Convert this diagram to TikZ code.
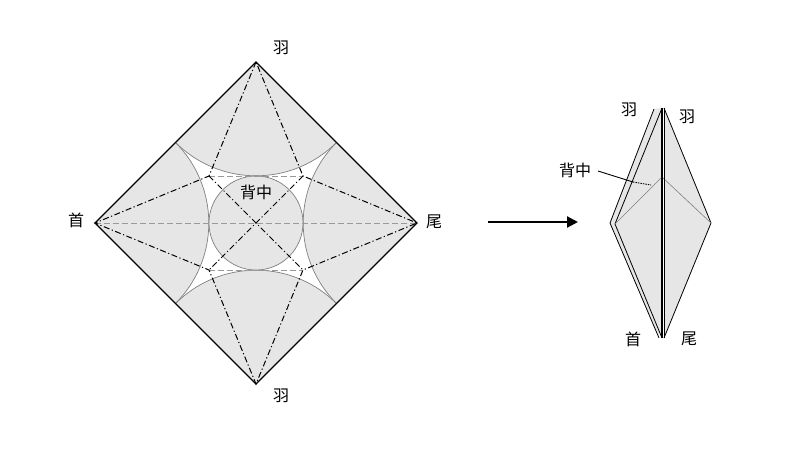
\documentclass[tikz,border=0pt]{standalone}
\usepackage{fontspec}
\newfontfamily\cjk{Noto Sans CJK JP}
\usetikzlibrary{arrows.meta}
\definecolor{paper}{HTML}{E6E6E6}
\tikzset{
  lbl/.style={font=\cjk\fontsize{16}{18}\selectfont, inner sep=0pt},
  mv/.style={black, line width=1pt, dash pattern=on 6pt off 2.5pt on 1.2pt off 2.5pt},
  vl/.style={gray!80, line width=0.7pt, dash pattern=on 6pt off 3pt},
  arcl/.style={gray, line width=0.7pt},
}
\begin{document}
\begin{tikzpicture}[x=1pt,y=-1pt]
\useasboundingbox (0,0) rectangle (800,450);
\coordinate (T) at (256,62);
\coordinate (L) at (95,223);
\coordinate (R) at (417,223);
\coordinate (B) at (256,384);
\coordinate (C) at (256,223);
\coordinate (p1) at (209,176);
\coordinate (p2) at (303,176);
\coordinate (p3) at (209,270);
\coordinate (p4) at (303,270);
\fill[white] (T) -- (R) -- (B) -- (L) -- cycle;
\begin{scope}
\clip (T) -- (R) -- (B) -- (L) -- cycle;
\foreach \p in {T,L,R,B} {\fill[paper] (\p) circle[radius=113.8];}
\foreach \p in {T,L,R,B} {\draw[arcl] (\p) circle[radius=113.8];}
\end{scope}
\fill[paper] (C) circle[radius=47];
\draw[arcl] (C) circle[radius=47];
\draw[vl] (L) -- (R);
\draw[vl] (p1) -- (p2);
\draw[vl] (p3) -- (p4);
\draw[mv] (T) -- (p1) -- (L) -- (p3) -- (B) -- (p4) -- (R) -- (p2) -- (T);
\draw[mv] (p1) -- (p4);
\draw[mv] (p2) -- (p3);
\draw[line width=1.3pt] (T) -- (R) -- (B) -- (L) -- cycle;
\node[lbl] (w1) at (281,48) {羽};
\node[lbl] (neck) at (76,220) {首};
\node[lbl] (tail) at (434,222) {尾};
\node[lbl] (w2) at (281,396) {羽};
\node[lbl, fill=paper, inner sep=1pt] (back) at (256,192) {背中};
\coordinate (a1) at (488,222);
\coordinate (a2) at (578,222);
\draw[line width=2.2pt, -{Triangle[length=11pt,width=11pt]}] (a1) -- (a2);
\coordinate (bt) at (654,109);
\coordinate (ft) at (662,108);
\coordinate (cl) at (610,223);
\coordinate (cl2) at (615,224);
\coordinate (cr) at (711,223);
\coordinate (cb) at (662,338);
\coordinate (cm) at (662,177);
\fill[paper] (bt) -- (cl) -- (659,338) -- (ft) -- cycle;
\draw[black, line width=0.8pt] (bt) -- (cl) -- (659,338);
\fill[paper] (ft) -- (cl2) -- (cb) -- cycle;
\draw[black, line width=0.8pt] (ft) -- (cl2) -- (cb);
\fill[paper] (664,108) -- (cr) -- (664,338) -- cycle;
\draw[black, line width=0.8pt] (664,108) -- (cr) -- (664,338);
\draw[gray, line width=0.6pt] (cl2) -- (cm) -- (cr);
\draw[black, line width=1.3pt] (ft) -- (cb);
\draw[black, line width=0.6pt] (664.5,108) -- (664.5,338);
\node[lbl] (cw1) at (629,110) {羽};
\node[lbl] (cw2) at (687,117) {羽};
\node[lbl] (cn) at (633,339) {首};
\node[lbl] (ct) at (689,339) {尾};
\node[lbl] (cbk) at (575,170) {背中};
\coordinate (lend) at (651,185);
\draw[line width=0.9pt] (598,171) -- (633,182);
\draw[line width=0.9pt, dash pattern=on 1.5pt off 1pt] (633,182) -- (lend);
\end{tikzpicture}
\end{document}
